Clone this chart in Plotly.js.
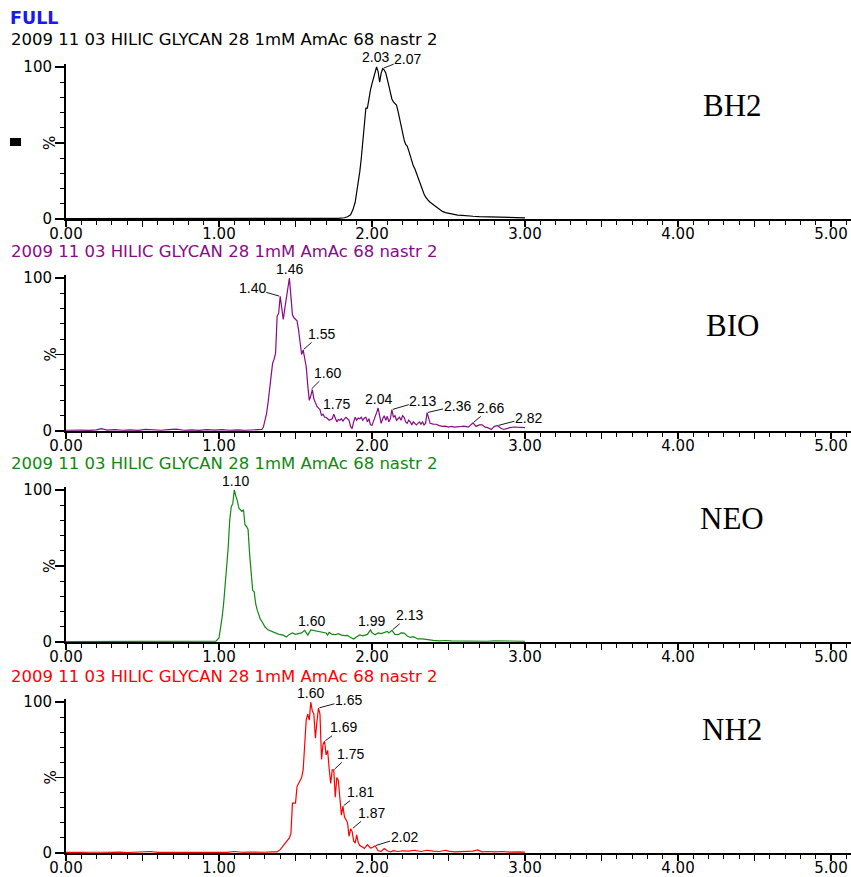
<!DOCTYPE html>
<html>
<head>
<meta charset="utf-8">
<script src="https://cdn.plot.ly/plotly-3.0.1.min.js"></script>
<style>html,body{margin:0;padding:0;background:#fff;}#chart{width:851px;height:877px;}</style>
</head>
<body>
<div id="chart"></div>
<script>
// ---------- data (retention time in min, relative intensity in %) ----------
const headerText = "2009 11 03 HILIC GLYCAN 28 1mM AmAc 68 nastr 2";
const panelNames = ["BH2", "BIO", "NEO", "NH2"];
const xTickVals = [0, 0.5, 1, 1.5, 2, 2.5, 3, 3.5, 4, 4.5, 5];
const xTickText = ["0.00", "", "1.00", "", "2.00", "", "3.00", "", "4.00", "", "5.00"];
const yTickVals = [0, 50, 100];
const yTickText = ["0", "", "100"];

const bh2T = [0.00,0.20,0.40,0.60,0.80,1.00,1.20,1.40,1.60,1.70,1.78,1.82,1.84,1.86,1.875,1.89,1.905,1.92,1.93,1.94,1.95,1.96,1.97,1.98,1.99,2.00,2.01,2.02,2.03,2.04,2.05,2.06,2.07,2.08,2.09,2.10,2.11,2.12,2.13,2.14,2.15,2.16,2.17,2.18,2.19,2.20,2.21,2.22,2.23,2.24,2.25,2.26,2.27,2.28,2.29,2.30,2.31,2.32,2.33,2.34,2.35,2.36,2.37,2.38,2.40,2.42,2.44,2.46,2.48,2.50,2.53,2.56,2.59,2.62,2.66,2.70,2.75,2.80,2.85,2.90,2.95,3.00];
const bh2V = [0.3,0.3,0.3,0.3,0.3,0.3,0.3,0.3,0.3,0.3,0.4,0.8,1.5,2.8,6,11,20,31,40,50,62,73,73,80,85,89,93,97,100,97,90,96,99,98,96,92,87,83,79,77,76,75,71,66,61,57,52,49,48,45,41,38,35,33,30,27,24,21,19,16.5,14.5,13,12,11,9.5,7.5,6,5,4.2,3.8,3,2.6,2.4,2,1.8,1.6,1.4,1.2,1.3,1.0,1.1,0.8];
const bh2Peaks = [2.03, 2.07];

const bioT = [0.00,0.05,0.10,0.15,0.20,0.23,0.27,0.32,0.37,0.42,0.47,0.52,0.57,0.62,0.67,0.72,0.77,0.82,0.87,0.92,0.97,1.02,1.07,1.12,1.17,1.22,1.26,1.28,1.29,1.30,1.31,1.32,1.33,1.34,1.35,1.36,1.37,1.38,1.39,1.40,1.41,1.42,1.43,1.44,1.45,1.46,1.47,1.48,1.49,1.50,1.51,1.52,1.53,1.54,1.55,1.56,1.57,1.58,1.59,1.60,1.61,1.62,1.63,1.64,1.65,1.66,1.67,1.68,1.69,1.70,1.71,1.72,1.73,1.74,1.75,1.76,1.77,1.78,1.79,1.80,1.81,1.82,1.83,1.84,1.85,1.86,1.87,1.88,1.89,1.90,1.91,1.92,1.93,1.94,1.95,1.96,1.97,1.98,1.99,2.00,2.01,2.02,2.03,2.04,2.05,2.06,2.07,2.08,2.09,2.10,2.11,2.12,2.13,2.14,2.15,2.16,2.17,2.18,2.19,2.20,2.21,2.22,2.23,2.24,2.25,2.26,2.27,2.28,2.29,2.30,2.31,2.32,2.33,2.34,2.35,2.36,2.37,2.38,2.40,2.42,2.44,2.46,2.48,2.50,2.52,2.54,2.57,2.60,2.63,2.66,2.68,2.70,2.72,2.74,2.76,2.78,2.80,2.82,2.84,2.86,2.88,2.90,2.93,2.96,3.00];
const bioV = [0.5,0.8,0.6,0.4,0.7,1.5,0.6,0.9,0.5,0.8,0.4,1.1,0.6,0.5,0.9,1.2,0.5,0.8,0.4,0.9,0.6,0.9,0.5,0.8,0.5,0.7,0.5,1.0,2.6,6,11,18,27,36,44,47,51,75,77,88,80,73,80,86,94,100,88,76,74,73,72,66,58,50,53,47,42,30,20,23,27,21,18,16,15,14,10,11,9,9,8,7,7.5,8,11,8,6,7.5,7,8,6.5,8,9,8,7,3,1.5,6,9,7,8.5,8,9,7,8.5,9,6,8,4,3.7,7,9,12,15,9,5,8,10,7,9.6,6,8,14,9,10,7,8,9,7,10,9,6,5,7,6,4,6,5,4,5,6,4.5,6,4,5,12,8,5,4.5,4.4,3.5,3,3.2,2.6,3,2.5,2.8,3.2,2.5,5.3,3,4,4,2.5,2,1,3,3.5,2,1,1.5,2.2,2.6,2.3,2.2];
const bioPeaks = [1.40, 1.46, 1.55, 1.60, 1.75, 2.04, 2.13, 2.36, 2.66, 2.82];

const neoT = [0.00,0.20,0.40,0.60,0.80,0.95,0.98,1.00,1.01,1.02,1.03,1.04,1.05,1.06,1.07,1.08,1.09,1.10,1.11,1.12,1.13,1.14,1.15,1.16,1.17,1.18,1.19,1.20,1.21,1.22,1.23,1.24,1.25,1.26,1.27,1.28,1.30,1.32,1.34,1.36,1.38,1.40,1.42,1.44,1.46,1.48,1.50,1.52,1.54,1.56,1.58,1.60,1.62,1.64,1.66,1.68,1.70,1.71,1.72,1.74,1.76,1.78,1.80,1.82,1.84,1.86,1.88,1.90,1.92,1.94,1.96,1.97,1.99,2.00,2.02,2.04,2.06,2.08,2.10,2.11,2.13,2.15,2.17,2.19,2.21,2.23,2.25,2.27,2.30,2.33,2.36,2.40,2.44,2.48,2.52,2.56,2.60,2.65,2.70,2.75,2.80,2.85,2.90,2.95,3.00];
const neoV = [0.3,0.3,0.3,0.3,0.3,0.3,0.6,2.6,8,16,25,36,47,62,80,89,91,100,96,93,88,87,86,87,77,76,74,58,44,34,33,25,21,18,15,13.6,10,8,7,6,5.5,4.8,4.5,3.3,5,5.9,5,5.5,6,7.7,4.6,8,7.5,7,6.5,6,5.9,4.5,6.3,5,4.8,5.5,4.5,4.2,4.4,3,2,3.5,4.6,4,4.8,5,8,6,4.8,6,5.5,6.3,7,6,7.7,5,4.8,6,5.9,4,3,3.5,2,2,1.5,1.1,0.8,1,0.7,0.6,0.8,0.5,0.6,0.5,0.8,0.7,0.5,0.6,0.5];
const neoPeaks = [1.10, 1.60, 1.99, 2.13];

const nh2T = [0.00,0.05,0.10,0.15,0.20,0.25,0.30,0.35,0.40,0.45,0.50,0.55,0.60,0.65,0.70,0.75,0.80,0.85,0.90,0.95,1.00,1.05,1.10,1.15,1.20,1.25,1.30,1.35,1.38,1.40,1.42,1.43,1.45,1.46,1.47,1.48,1.49,1.50,1.51,1.52,1.53,1.54,1.55,1.56,1.57,1.58,1.59,1.60,1.61,1.62,1.63,1.64,1.65,1.66,1.67,1.68,1.69,1.70,1.71,1.72,1.73,1.74,1.75,1.76,1.77,1.78,1.79,1.80,1.81,1.82,1.83,1.84,1.85,1.86,1.87,1.88,1.89,1.90,1.91,1.92,1.93,1.95,1.97,1.99,2.00,2.02,2.04,2.06,2.08,2.10,2.12,2.14,2.17,2.20,2.24,2.28,2.32,2.36,2.40,2.44,2.48,2.50,2.54,2.58,2.62,2.66,2.69,2.72,2.76,2.80,2.85,2.90,2.95,3.00];
const nh2V = [0.4,0.6,0.4,0.5,0.3,0.5,0.4,0.6,0.3,0.5,0.4,1.0,0.4,0.5,0.6,0.3,0.5,0.4,0.6,0.4,0.5,0.4,1.0,0.5,0.6,0.4,0.5,0.7,0.8,2.2,5,6.6,8.8,10,13,33,33,33,44,46,48,50,55,72,88,92,88,100,94,92,76,87,96,92,62,72,74,65,68,56,46,55,55,37,50,48,38,25,31,24,22,20,11,16,14.3,8,6.6,12,7,5,4.4,3,5.5,3.3,3.5,4.8,1.5,1.1,3,1.5,0.7,1.5,1,1.5,1.2,1.8,1,1.8,1.2,1,1.8,1.2,0.8,1,0.8,1.2,2,0.8,1,0.7,1,0.6,0.8,0.6];
const nh2Peaks = [1.60, 1.65, 1.69, 1.75, 1.81, 1.87, 2.02];

// ---------- layout helpers ----------
const W = 851, H = 877;
const xLeft = 66;                 // pixel of t = 0
const pxPerMin = 153;
const xMax = (W - xLeft) / pxPerMin;
const colors = ["#000000", "#880a88", "#118811", "#ff0000"];
// [pixel of 0%, pixel of 100%] for each panel
const panelPix = [[219, 67], [431, 278], [642, 490], [853, 702]];
const headerY = [40, 252, 464, 676];
const nameY = [105, 325, 518, 729];
const yTop = 102;

const series = [
  {T: bh2T, V: bh2V, P: bh2Peaks,
   off: [[-1,-10,0],[25,-10,1]]},
  {T: bioT, V: bioV, P: bioPeaks,
   off: [[-28,-8,1],[0,-9,0],[18,-16,1],[17,-17,1],[3,-10,0],[0,-9,0],[31,-9,1],[30,-7,1],[18,-15,1],[31,-8,1]]},
  {T: neoT, V: neoV, P: neoPeaks,
   off: [[1,-9,0],[1,-9,0],[1,-9,0],[18,-15,1]]},
  {T: nh2T, V: nh2V, P: nh2Peaks,
   off: [[0,-9,0],[30,-8,1],[19,-14,1],[17,-16,1],[18,-14,1],[19,-16,1],[29,-9,1]]}
];

function peakY(T, V, t) {
  let best = -1;
  for (let i = 0; i < T.length; i++) {
    if (Math.abs(T[i] - t) <= 0.012 && V[i] > best) best = V[i];
  }
  return best;
}

const traces = [];
const layout = {
  width: W, height: H,
  margin: {l: 0, r: 0, t: 0, b: 0, pad: 0},
  paper_bgcolor: "#ffffff", plot_bgcolor: "#ffffff",
  showlegend: false,
  font: {family: "DejaVu Sans", color: "#000"},
  annotations: [], shapes: []
};

series.forEach((s, k) => {
  const n = k === 0 ? "" : String(k + 1);
  const [p0, p100] = panelPix[k];
  const pxPerPct = (p0 - p100) / 100;
  const topPix = p0 - yTop * pxPerPct;
  const xa = "xaxis" + n, ya = "yaxis" + n;
  const xr = "x" + n, yr = "y" + n;

  traces.push({
    type: "scatter", mode: "lines", x: s.T, y: s.V,
    xaxis: xr, yaxis: yr,
    line: {color: colors[k], width: 1.2, shape: "linear"},
    hoverinfo: "skip"
  });

  layout[xa] = {
    domain: [xLeft / W, 1], range: [0, xMax], anchor: yr,
    showgrid: false, zeroline: false, showline: true, linecolor: "#000", linewidth: 2,
    tickmode: "array", tickvals: xTickVals, ticktext: xTickText,
    ticks: "outside", ticklen: 6, tickwidth: 1.2, tickcolor: "#000",
    ticklabelstandoff: -6,
    minor: {tickmode: "linear", tick0: 0, dtick: 0.1, ticks: "outside", ticklen: 4, tickwidth: 1, tickcolor: "#000"},
    tickfont: {family: "DejaVu Sans", size: 15, color: "#000"},
    fixedrange: true
  };
  layout[ya] = {
    domain: [1 - p0 / H, 1 - topPix / H], range: [0, yTop], anchor: xr,
    showgrid: false, zeroline: false, showline: true, linecolor: "#000", linewidth: 2,
    tickmode: "array", tickvals: yTickVals, ticktext: yTickText,
    ticks: "outside", ticklen: 9, tickwidth: 1.2, tickcolor: "#000",
    minor: {tickmode: "linear", tick0: 0, dtick: 10, ticks: "outside", ticklen: 4, tickwidth: 1, tickcolor: "#000"},
    tickfont: {family: "DejaVu Sans", size: 15, color: "#000"},
    fixedrange: true
  };

  // header line
  layout.annotations.push({
    xref: "paper", yref: "paper", x: 9 / W, y: 1 - headerY[k] / H,
    xanchor: "left", yanchor: "middle", showarrow: false,
    text: headerText, font: {family: "DejaVu Sans", size: 16.5, color: colors[k]}
  });
  // % label
  layout.annotations.push({
    xref: "paper", yref: yr, x: 50 / W, y: 50, xanchor: "center", yanchor: "middle",
    showarrow: false, text: "%", textangle: -90,
    font: {family: "DejaVu Sans", size: 15, color: "#000"}
  });
  // sample name
  layout.annotations.push({
    xref: "paper", yref: "paper", x: 732 / W, y: 1 - nameY[k] / H,
    xanchor: "center", yanchor: "middle", showarrow: false,
    text: panelNames[k], font: {family: "Liberation Serif", size: 31, color: "#000"}
  });
  // peak labels
  s.P.forEach((t, i) => {
    const o = s.off[i];
    layout.annotations.push({
      xref: xr, yref: yr, x: t, y: peakY(s.T, s.V, t),
      text: t.toFixed(2), showarrow: true, ax: o[0], ay: o[1],
      arrowhead: 0, arrowwidth: 0.9, standoff: 1,
      arrowcolor: o[2] ? "#000" : "rgba(0,0,0,0)",
      font: {family: "Liberation Sans", size: 14, color: "#000"},
      borderpad: 0
    });
  });
});

layout.annotations.push({
  xref: "paper", yref: "paper", x: 8 / W, y: 1 - 18 / H, xanchor: "left", yanchor: "middle",
  showarrow: false, text: "<b>FULL</b>",
  font: {family: "DejaVu Sans", size: 17.5, color: "#1a1aee"}
});
layout.shapes.push({
  type: "rect", xref: "paper", yref: "paper",
  x0: 10 / W, x1: 21 / W, y0: 1 - 146 / H, y1: 1 - 138 / H,
  fillcolor: "#000", line: {width: 0}
});

Plotly.newPlot("chart", traces, layout, {staticPlot: true, displayModeBar: false});
</script>
</body>
</html>
